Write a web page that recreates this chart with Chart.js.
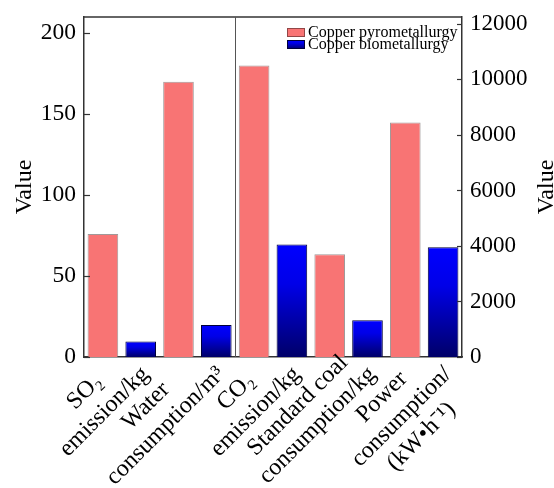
<!DOCTYPE html>
<html lang="en">
<head>
<meta charset="UTF-8">
<title>Copper metallurgy comparison</title>
<script src="https://cdn.jsdelivr.net/npm/chart.js"></script>
<style>
    body { margin: 0; padding: 0; background: #fff; }
    #wrap { width: 554px; height: 488px; position: relative; }
</style>
</head>
<body>
<div id="wrap"><canvas id="chart"></canvas></div>
<script>
    // categories (one array of lines per label)
    const categories = [
        ['SO\u2082', 'emission/kg'],
        ['Water', 'consumption/m\u00b3'],
        ['CO\u2082', 'emission/kg'],
        ['Standard coal', 'consumption/kg'],
        ['Power', 'consumption/', '(kW\u2022h\u207b\u00b9)']
    ];
    // which y axis each category is read against
    const axisOf = ['y', 'y', 'y1', 'y1', 'y1'];
    const pyroValues = [76, 170, 10500, 3700, 8450];
    const bioValues = [9.5, 19.7, 4050, 1320, 3950];
    const seriesNames = ['Copper pyrometallurgy', 'Copper biometallurgy'];
    const leftTickValues = [0, 50, 100, 150, 200];
    const rightTickValues = [0, 2000, 4000, 6000, 8000, 10000, 12000];
    const leftMax = 210;
    const rightMax = 12250;

    const FONT = '"Liberation Serif", "Times New Roman", serif';
    const RED = '#f87474';

    function blueGradient(c, top, bottom) {
        const g = c.createLinearGradient(0, top, 0, bottom);
        g.addColorStop(0, '#0000ff');
        g.addColorStop(0.35, '#0000e8');
        g.addColorStop(1, '#000068');
        return g;
    }

    function bioFill(ctx) {
        const chart = ctx.chart;
        if (ctx.type !== 'data' || ctx.raw == null) return '#0000cc';
        const ds = chart.data.datasets[ctx.datasetIndex];
        const scale = chart.scales[ds.yAxisID];
        if (!scale) return '#0000cc';
        const top = scale.getPixelForValue(ctx.raw);
        const bottom = scale.getPixelForValue(0);
        if (!isFinite(top) || !isFinite(bottom) || top === bottom) return '#0000cc';
        return blueGradient(chart.ctx, top, bottom);
    }

    // split a series into left-axis and right-axis parts
    function part(values, axis) {
        return values.map((v, i) => axisOf[i] === axis ? v : null);
    }

    function makeSet(name, values, axis, bio) {
        return {
            label: name,
            data: part(values, axis),
            yAxisID: axis,
            backgroundColor: bio ? bioFill : RED,
            borderColor: bio ? '#00003a' : 'rgba(120,110,110,0.7)',
            borderWidth: 1,
            barPercentage: 0.81,
            categoryPercentage: 1.0
        };
    }

    function noPad(s) {
        s.paddingTop = 0;
        s.paddingBottom = 0;
        s.paddingLeft = 0;
        s.paddingRight = 0;
    }

    // frame, inward ticks, divider, legend, titles and slanted labels
    const decor = {
        id: 'decor',
        afterDraw(chart) {
            const c = chart.ctx;
            const a = chart.chartArea;
            const xs = chart.scales.x;
            c.save();

            // top border
            c.strokeStyle = '#333';
            c.lineWidth = 1.5;
            c.beginPath();
            c.moveTo(a.left, a.top);
            c.lineTo(a.right, a.top);
            c.stroke();

            // divider between left-axis and right-axis groups
            const dx = Math.round((xs.getPixelForValue(1) + xs.getPixelForValue(2)) / 2) + 0.5;
            c.strokeStyle = '#555';
            c.lineWidth = 1;
            c.beginPath();
            c.moveTo(dx, a.top);
            c.lineTo(dx, a.bottom);
            c.stroke();

            // inward tick marks
            c.strokeStyle = '#333';
            c.lineWidth = 1.2;
            chart.scales.y.ticks.forEach(t => {
                const py = Math.round(chart.scales.y.getPixelForValue(t.value)) + 0.5;
                c.beginPath(); c.moveTo(a.left, py); c.lineTo(a.left + 6, py); c.stroke();
            });
            chart.scales.y1.ticks.forEach(t => {
                const py = Math.round(chart.scales.y1.getPixelForValue(t.value)) + 0.5;
                c.beginPath(); c.moveTo(a.right, py); c.lineTo(a.right - 5, py); c.stroke();
            });

            // legend
            const lx = a.right - 175, ly = a.top + 11;
            c.fillStyle = RED;
            c.fillRect(lx, ly, 18, 9);
            c.strokeStyle = 'rgba(120,60,60,0.8)';
            c.lineWidth = 1;
            c.strokeRect(lx + 0.5, ly + 0.5, 17, 8);
            c.fillStyle = blueGradient(c, ly + 12, ly + 21);
            c.fillRect(lx, ly + 12, 18, 9);
            c.strokeStyle = '#00003a';
            c.strokeRect(lx + 0.5, ly + 12.5, 17, 8);
            c.fillStyle = '#000';
            c.font = '16px ' + FONT;
            c.textAlign = 'left';
            c.textBaseline = 'middle';
            c.fillText(seriesNames[0], lx + 21, ly + 5);
            c.fillText(seriesNames[1], lx + 21, ly + 17);

            // axis titles
            c.font = '24px ' + FONT;
            c.textAlign = 'center';
            c.textBaseline = 'alphabetic';
            const cy = (a.top + a.bottom) / 2;
            c.save();
            c.translate(31, cy);
            c.rotate(-Math.PI / 2);
            c.fillText('Value', 0, 0);
            c.restore();
            c.save();
            c.translate(553, cy);
            c.rotate(-Math.PI / 2);
            c.fillText('Value', 0, 0);
            c.restore();

            // slanted category labels, centred lines
            const pitch = 28;
            c.textBaseline = 'middle';
            categories.forEach((lines, i) => {
                const w = Math.max(...lines.map(s => c.measureText(s).width));
                c.save();
                c.translate(xs.getPixelForValue(i) - 6, a.bottom - 16);
                c.rotate(-Math.PI / 4);
                lines.forEach((s, j) => c.fillText(s, -w / 2, (j + 0.5) * pitch));
                c.restore();
            });

            c.restore();
        }
    };

    Chart.defaults.font.family = FONT;
    Chart.defaults.color = '#000';

    new Chart(document.getElementById('chart'), {
        type: 'bar',
        data: {
            labels: categories.map(l => l.join(' ')),
            datasets: [
                makeSet(seriesNames[0], pyroValues, 'y', false),
                makeSet(seriesNames[1], bioValues, 'y', true),
                makeSet(seriesNames[0], pyroValues, 'y1', false),
                makeSet(seriesNames[1], bioValues, 'y1', true)
            ]
        },
        options: {
            responsive: true,
            maintainAspectRatio: false,
            animation: false,
            skipNull: true,
            layout: { padding: { top: 17, left: 0, right: 0, bottom: 0 } },
            plugins: {
                legend: { display: false },
                tooltip: { enabled: false }
            },
            scales: {
                x: {
                    grid: { display: false },
                    border: { display: true, color: '#333', width: 1.5 },
                    ticks: { display: false },
                    afterFit(s) { s.height = 131; noPad(s); }
                },
                y: {
                    position: 'left',
                    min: 0,
                    max: leftMax,
                    grid: { display: false },
                    border: { display: true, color: '#333', width: 1.5 },
                    ticks: { padding: 0, font: { size: 23.5 } },
                    afterBuildTicks(s) { s.ticks = leftTickValues.map(v => ({ value: v })); },
                    afterFit(s) { s.width = 84; noPad(s); }
                },
                y1: {
                    position: 'right',
                    min: 0,
                    max: rightMax,
                    grid: { display: false },
                    border: { display: true, color: '#333', width: 1.5 },
                    ticks: { padding: 0, font: { size: 23 }, callback: v => String(v) },
                    afterBuildTicks(s) { s.ticks = rightTickValues.map(v => ({ value: v })); },
                    afterFit(s) { s.width = 92; noPad(s); }
                }
            }
        },
        plugins: [decor]
    });
</script>
</body>
</html>
